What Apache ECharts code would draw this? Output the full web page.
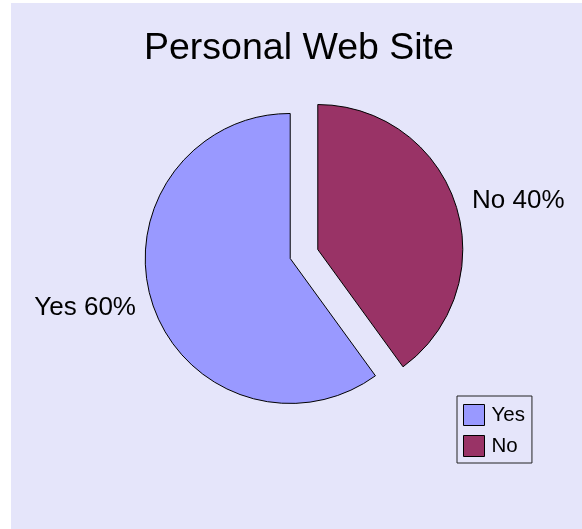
<!DOCTYPE html>
<html>
<head>
<meta charset="utf-8">
<script src="https://cdn.jsdelivr.net/npm/echarts@6/dist/echarts.min.js"></script>
<style>
  html, body { margin: 0; padding: 0; background: #ffffff; }
  #chart { width: 582px; height: 529px; }
</style>
</head>
<body>
<div id="chart"></div>
<script>
// Survey answers: does the respondent have a personal web site?
const titleText = 'Personal Web Site';
const categories = ['No', 'Yes'];          // drawn clockwise from 12 o'clock
const values = [40, 60];
const legendOrder = ['Yes', 'No'];
const sliceColors = { Yes: '#9999FF', No: '#993366' };

const FONT = 'Liberation Sans, Arial, sans-serif';
const BG = '#E5E5FA';

const chart = echarts.init(document.getElementById('chart'), null, { renderer: 'canvas' });

const pieData = categories.map((name, i) => ({
  name: name,
  value: values[i],
  selected: true,
  itemStyle: { color: sliceColors[name] }
}));

chart.setOption({
  backgroundColor: '#ffffff',
  animation: false,
  graphic: [{
    type: 'rect',
    z: -10,
    silent: true,
    shape: { x: 11, y: 3, width: 571, height: 526 },
    style: { fill: BG }
  }],
  title: {
    text: titleText,
    left: 144,
    top: 30,
    padding: 0,
    textStyle: {
      fontFamily: FONT,
      fontSize: 37.5,
      fontWeight: 'normal',
      color: '#000'
    }
  },
  legend: {
    data: legendOrder,
    orient: 'vertical',
    left: 457,
    top: 396,
    padding: [8, 7, 6, 6],
    itemGap: 9,
    itemWidth: 21,
    itemHeight: 21,
    icon: 'rect',
    backgroundColor: BG,
    borderColor: '#222',
    borderWidth: 1,
    borderRadius: 0,
    selectedMode: false,
    itemStyle: { borderColor: '#000', borderWidth: 1 },
    textStyle: {
      fontFamily: FONT,
      fontSize: 20.5,
      color: '#000',
      padding: [0, 0, 0, 2]
    }
  },
  series: [{
    type: 'pie',
    center: [304, 254],
    radius: 145,
    startAngle: 90,
    clockwise: true,
    selectedMode: 'multiple',
    selectedOffset: 14.5,
    avoidLabelOverlap: false,
    emphasis: { disabled: true },
    itemStyle: { borderColor: '#000', borderWidth: 1 },
    select: { itemStyle: { borderColor: '#000', borderWidth: 1 } },
    label: {
      show: true,
      position: 'outside',
      formatter: '{b} {d}%',
      fontFamily: FONT,
      fontSize: 26,
      color: '#000',
      distanceToLabelLine: 3
    },
    labelLine: { show: false, length: 14, length2: 0 },
    data: pieData
  }]
});
</script>
</body>
</html>
